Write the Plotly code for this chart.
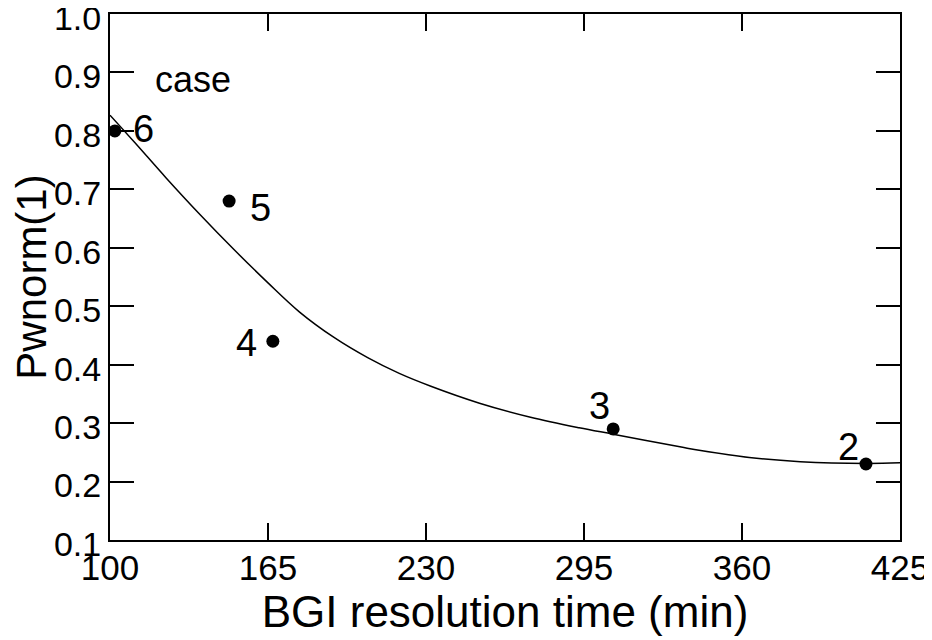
import plotly.graph_objects as go

# measured cases
case_x = [102, 149, 167, 307, 411]
case_y = [0.80, 0.68, 0.44, 0.29, 0.23]
case_labels = ["6", "5", "4", "3", "2"]

# fitted curve
curve_x = [100, 110, 123, 137, 151, 165, 178, 192, 206, 219, 232, 252, 273, 293, 307, 335, 343, 363, 384, 411, 425]
curve_y = [0.827, 0.781, 0.720, 0.657, 0.597, 0.540, 0.490, 0.447, 0.412, 0.385, 0.363, 0.334,
           0.310, 0.292, 0.281, 0.259, 0.253, 0.241, 0.234, 0.231, 0.232]

x_ticks = [100, 165, 230, 295, 360, 425]
y_ticks = [0.1, 0.2, 0.3, 0.4, 0.5, 0.6, 0.7, 0.8, 0.9, 1.0]

# label offsets (pixels) relative to each point
label_dx = [29, 31, -26, -14, -17]
label_dy = [2, -7, -2, 23, 17]

FONT = "Liberation Sans, Arial, sans-serif"

fig = go.Figure()
fig.add_trace(go.Scatter(x=curve_x, y=curve_y, mode="lines",
                         line=dict(color="black", width=1.5, shape="spline", smoothing=1.0),
                         hoverinfo="skip", showlegend=False))
fig.add_trace(go.Scatter(x=case_x, y=case_y, mode="markers", marker=dict(color="black", size=13),
                         showlegend=False))

for x, y, t, dx, dy in zip(case_x, case_y, case_labels, label_dx, label_dy):
    fig.add_annotation(x=x, y=y, text=t, showarrow=False, xshift=dx, yshift=dy,
                       font=dict(family=FONT, size=38, color="black"))

fig.add_annotation(x=0.105, y=0.876, xref="paper", yref="paper", text="case", showarrow=False,
                   xanchor="center", yanchor="middle",
                   font=dict(family=FONT, size=36, color="black"))

# the page body adds an 8px offset, so the figure is 8px smaller than the window
fig.update_layout(
    width=924, height=632,
    margin=dict(l=102, r=32, t=6, b=100, autoexpand=False),
    plot_bgcolor="white", paper_bgcolor="white",
    font=dict(family=FONT, color="black"),
)
fig.update_xaxes(range=[100, 425], tickvals=x_ticks, ticktext=[str(v) for v in x_ticks],
                 ticks="inside", ticklen=17, tickwidth=1.5, tickcolor="black",
                 showline=True, linecolor="black", linewidth=2, mirror="ticks",
                 showgrid=False, zeroline=False, tickfont=dict(size=35), automargin=False,
                 ticklabeloverflow="allow", ticklabelstandoff=-4,
                 title=dict(text="BGI resolution time (min)", font=dict(size=44), standoff=0))
fig.update_yaxes(range=[0.0999, 1.0001], tickvals=y_ticks, ticktext=[f"{v:.1f}" for v in y_ticks],
                 ticks="inside", ticklen=24, tickwidth=1.5, tickcolor="black",
                 showline=True, linecolor="black", linewidth=2, mirror="ticks",
                 showgrid=False, zeroline=False, tickfont=dict(size=34), automargin=False,
                 ticklabeloverflow="allow", ticklabelshift=4,
                 title=dict(text="Pwnorm(1)", font=dict(size=42), standoff=0))

fig.write_html("out.html")
